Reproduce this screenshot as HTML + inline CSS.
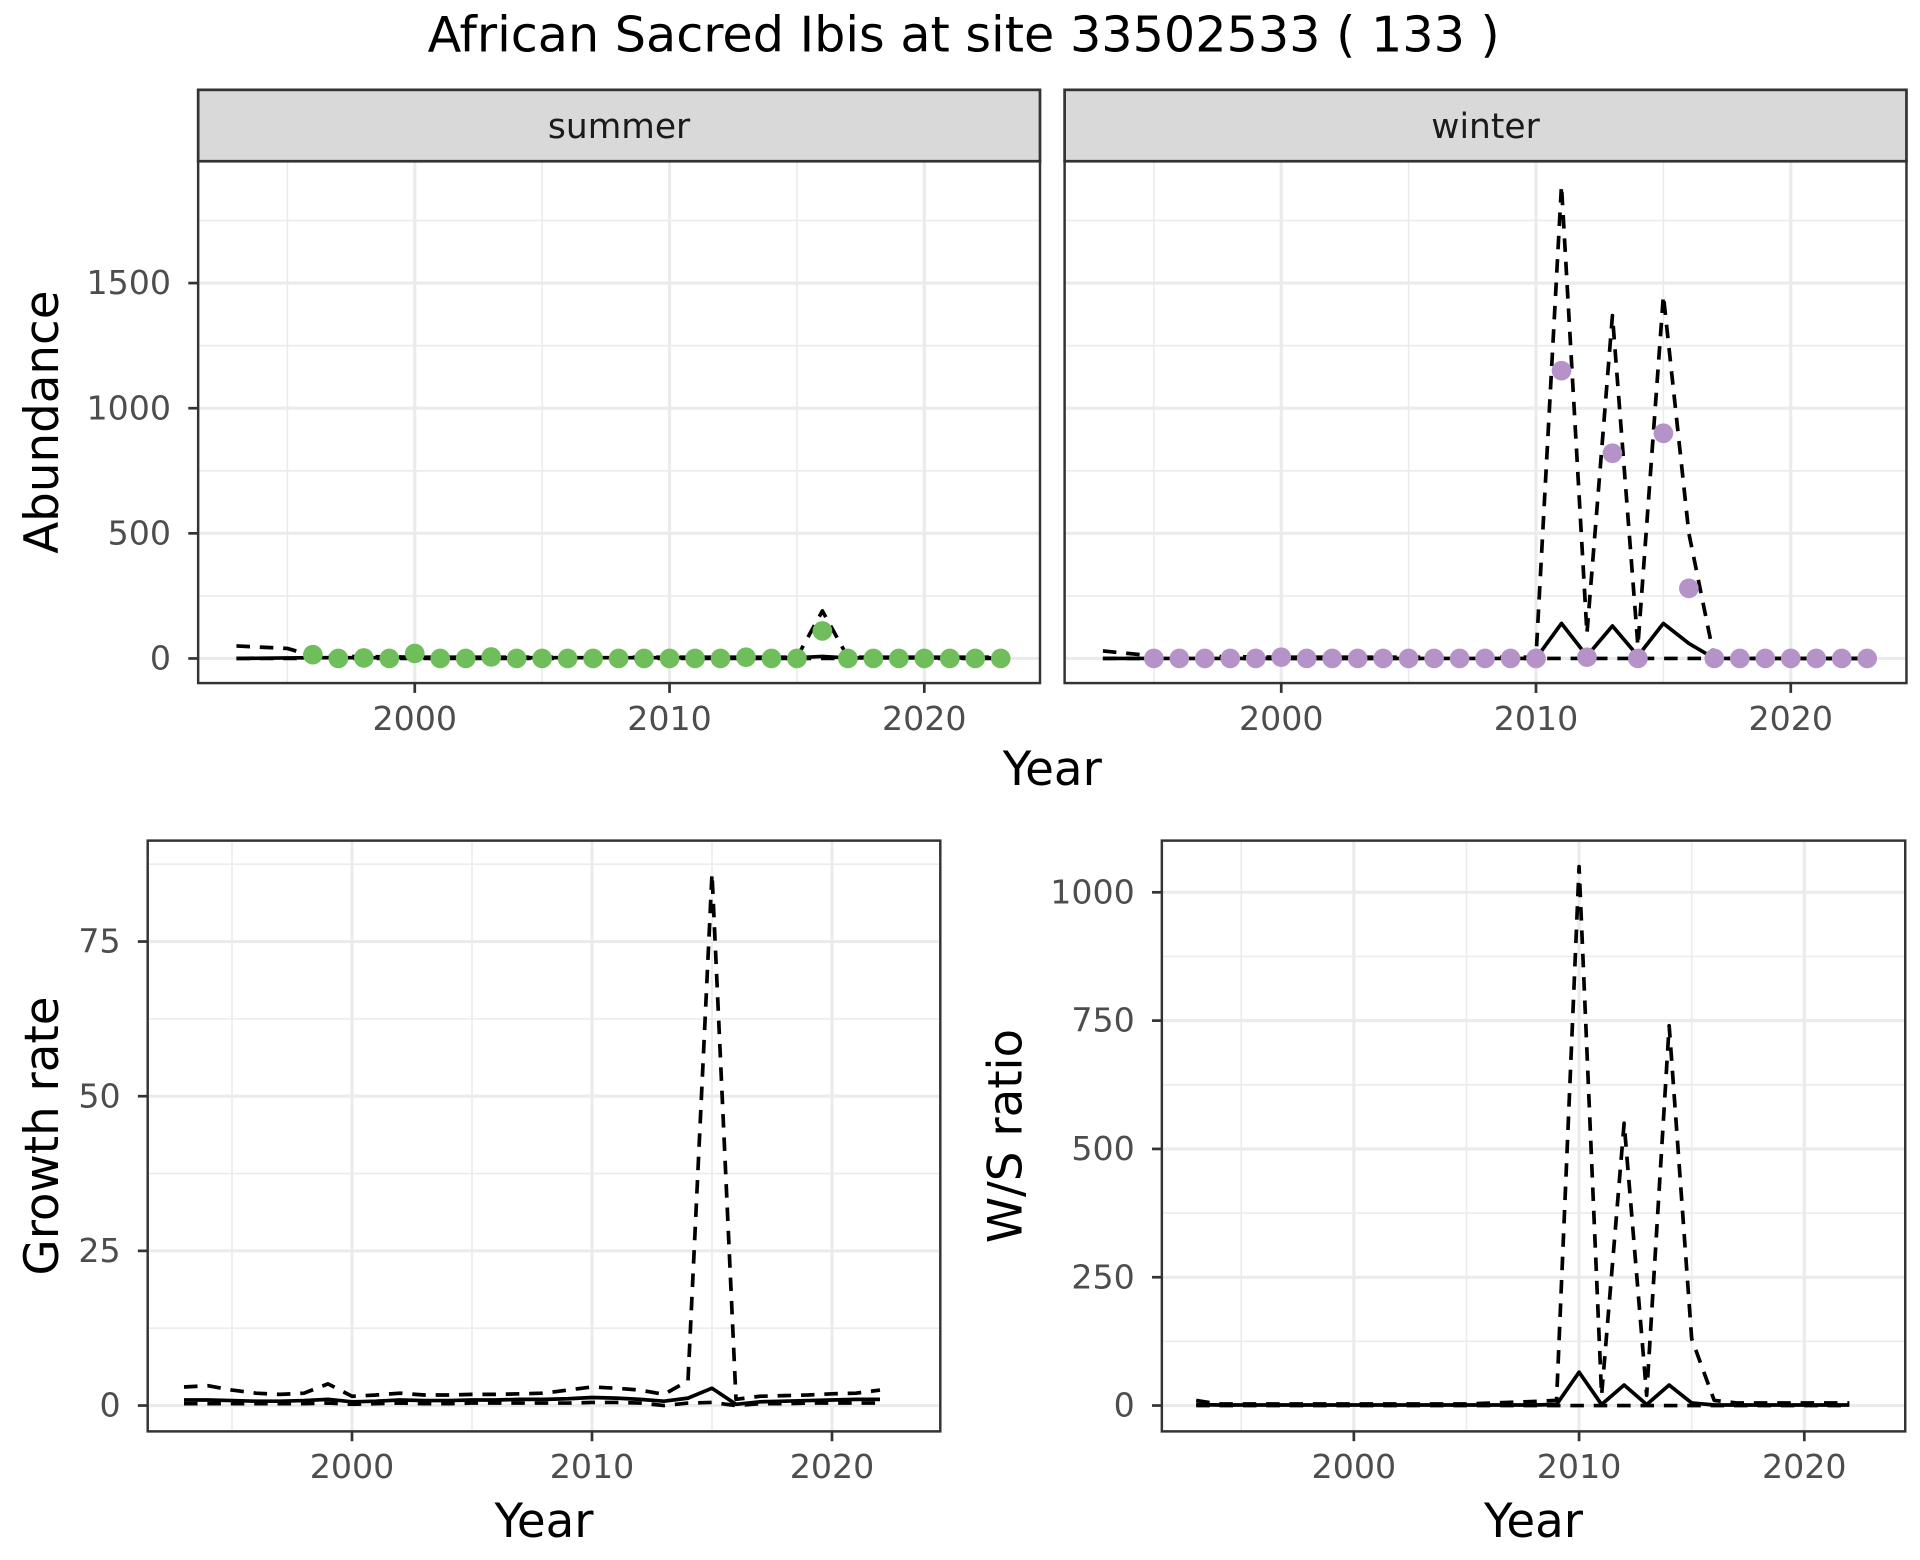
<!DOCTYPE html>
<html><head><meta charset="utf-8"><style>
html,body{margin:0;padding:0;background:#fff;}
svg{display:block;}
text{font-family:"DejaVu Sans","Liberation Sans",sans-serif;}
</style></head><body>
<svg id="chart" width="1920" height="1560" viewBox="0 0 1560 1267.5" xmlns="http://www.w3.org/2000/svg">
<text x="783" y="42" font-size="40" text-anchor="middle" fill="#000">African Sacred Ibis at site 33502533 ( 133 )</text>
</svg>
<script>
// ---- data ----
const summerYears = [1996,1997,1998,1999,2000,2001,2002,2003,2004,2005,2006,2007,2008,2009,2010,2011,2012,2013,2014,2015,2016,2017,2018,2019,2020,2021,2022,2023];
const summerCounts = [15,0,2,0,20,0,0,6,0,0,0,0,0,0,0,0,0,5,0,0,110,0,0,0,0,0,0,0];
const summerLineYears = [1993,1995,1996,2000,2005,2010,2015,2016,2017,2020,2023];
const summerMean = [0,2,3,3,3,3,3,8,2,2,2];
const summerUpper = [50,40,10,5,5,5,5,190,5,5,5];
const summerLower = [0,0,0,0,0,0,0,0,0,0,0];

const winterYears = [1995,1996,1997,1998,1999,2000,2001,2002,2003,2004,2005,2006,2007,2008,2009,2010,2011,2012,2013,2014,2015,2016,2017,2018,2019,2020,2021,2022,2023];
const winterCounts = [0,0,0,0,0,5,0,0,0,0,0,0,0,0,0,0,1150,5,820,0,900,280,0,0,0,0,0,0,0];
const winterLineYears = [1993,1995,2000,2010,2011,2012,2013,2014,2015,2016,2017,2020,2023];
const winterMean = [0,0,0,0,140,10,130,10,140,60,0,0,0];
const winterUpper = [30,10,5,5,1890,100,1370,50,1450,500,0,0,0];
const winterLower = [0,0,0,0,0,0,0,0,0,0,0,0,0];

const growthYears = [1993,1994,1995,1996,1997,1998,1999,2000,2001,2002,2003,2004,2005,2006,2007,2008,2009,2010,2011,2012,2013,2014,2015,2016,2017,2018,2019,2020,2021,2022];
const growthMean = [0.9,0.9,0.8,0.7,0.7,0.8,1.0,0.6,0.7,0.9,0.8,0.8,0.9,0.9,1.0,1.0,1.1,1.3,1.2,1.0,0.7,1.2,2.8,0.2,0.6,0.7,0.8,0.9,1.0,1.0];
const growthUpper = [3.0,3.2,2.5,2.0,1.8,2.0,3.5,1.5,1.7,2.0,1.7,1.7,1.8,1.8,1.9,2.0,2.5,3.0,2.8,2.5,1.8,4.0,86,1.0,1.5,1.6,1.7,1.9,2.0,2.5];
const growthLower = [0.3,0.3,0.3,0.3,0.3,0.3,0.4,0.2,0.3,0.4,0.3,0.3,0.4,0.4,0.4,0.4,0.4,0.5,0.5,0.4,0.0,0.4,0.5,0.0,0.3,0.3,0.4,0.4,0.4,0.4];

const ratioYears = [1993,1994,1995,2000,2005,2008,2009,2010,2011,2012,2013,2014,2015,2016,2017,2020,2022];
const ratioMean = [2,1,1,1,1,1,2,65,2,40,2,40,5,1,1,1,1];
const ratioUpper = [10,3,3,3,3,8,10,1050,20,550,20,740,130,10,5,5,5];
const ratioLower = [0,0,0,0,0,0,0,0,0,0,0,0,0,0,0,0,0];

const abTicks = [0,500,1000,1500];
const grTicks = [0,25,50,75];
const wsTicks = [0,250,500,750,1000];
const yearTicks = [2000,2010,2020];

// ---- helpers ----
const NS = "http://www.w3.org/2000/svg";
const svg = document.getElementById('chart');
function mk(tag, attrs, parent){
  const e = document.createElementNS(NS, tag);
  for (const k in attrs) e.setAttribute(k, attrs[k]);
  (parent||svg).appendChild(e);
  return e;
}
function scale(d0,d1,r0,r1){ return v => r0 + (v-d0)/(d1-d0)*(r1-r0); }

function panel(name, box, xs, ys, yt, showY, strip){
  const g = mk('g', {});
  
  
  mk('rect',{x:box.x0,y:box.y0,width:box.x1-box.x0,height:box.y1-box.y0,fill:'#fff'},g);
  const yrs=[1995,2005,2015];
  yrs.forEach(y=>mk('line',{x1:xs(y),x2:xs(y),y1:box.y0,y2:box.y1,stroke:'#ebebeb','stroke-width':1.3},g));
  for(let i=0;i<yt.length;i++){
    const m=(yt[i]+(yt[i+1]!==undefined?yt[i+1]:yt[i]+(yt[1]-yt[0])))/2;
    const py=ys(m); if(py>box.y0&&py<box.y1) mk('line',{x1:box.x0,x2:box.x1,y1:py,y2:py,stroke:'#ebebeb','stroke-width':1.3},g);
  }
  yearTicks.forEach(y=>mk('line',{x1:xs(y),x2:xs(y),y1:box.y0,y2:box.y1,stroke:'#ebebeb','stroke-width':2.6},g));
  yt.forEach(v=>mk('line',{x1:box.x0,x2:box.x1,y1:ys(v),y2:ys(v),stroke:'#ebebeb','stroke-width':2.6},g));
  yearTicks.forEach(y=>{
    mk('line',{x1:xs(y),x2:xs(y),y1:box.y1,y2:box.y1+8,stroke:'#333','stroke-width':2.2},g);
    const t=mk('text',{x:xs(y),y:box.y1+38,'font-size':27,'text-anchor':'middle',fill:'#4d4d4d'},g);
    t.textContent=y;
    
    
  });
  if(showY){
    yt.forEach(v=>{
      mk('line',{x1:box.x0-8,x2:box.x0,y1:ys(v),y2:ys(v),stroke:'#333','stroke-width':2.2},g);
      const t=mk('text',{x:box.x0-22,y:ys(v)+9,'font-size':27,'text-anchor':'end',fill:'#4d4d4d'},g);
      t.textContent=v;
      
      
    });
  }
  if(strip){
    const r=mk('rect',{x:box.x0,y:box.y0-58,width:box.x1-box.x0,height:58,fill:'#d9d9d9',stroke:'#333','stroke-width':2.2},g);
    
    
    const t=mk('text',{x:(box.x0+box.x1)/2,y:box.y0-19,'font-size':28,'text-anchor':'middle',fill:'#1a1a1a'},g);
    t.textContent=strip;
    
    
  }
  return g;
}
function line(g, name, xsArr, ysArr, xs, ys, dashed){
  const d = xsArr.map((x,i)=>(i?'L':'M')+xs(x).toFixed(2)+','+ys(ysArr[i]).toFixed(2)).join(' ');
  const p=mk('path',{d:d,fill:'none',stroke:'#000','stroke-width':3,'stroke-dasharray':dashed?'11,8':'none','stroke-linejoin':'round'},g);
  
  
}
function points(g, name, xsArr, ysArr, xs, ys, col){
  xsArr.forEach((x,i)=>{
    const c=mk('ellipse',{cx:xs(x),cy:ys(ysArr[i]),rx:8,ry:8,fill:col},g);
    
    
  });
}
function frame(g, box){
  mk('rect',{x:box.x0,y:box.y0,width:box.x1-box.x0,height:box.y1-box.y0,fill:'none',stroke:'#333','stroke-width':2},g);
}
function label(txt,x,y,rot,name){
  const t=mk('text',{x:x,y:y,'font-size':38,'text-anchor':'middle',fill:'#000',transform:rot?`rotate(-90 ${x} ${y})`:''});
  t.textContent=txt;
  
  
}

let box={x0:161,x1:845,y0:131,y1:555};
let xs=scale(2000,2020,337,751), ys=scale(0,1500,535,230);
let g=panel('summer-panel',box,xs,ys,abTicks,true,'summer');
line(g,'summer-upper-ci',summerLineYears,summerUpper,xs,ys,true);
line(g,'summer-lower-ci',summerLineYears,summerLower,xs,ys,true);
line(g,'summer-trend-line',summerLineYears,summerMean,xs,ys,false);
points(g,'summer-count-point',summerYears,summerCounts,xs,ys,'#6fbe5b');
frame(g,box);

box={x0:865,x1:1549,y0:131,y1:555};
xs=scale(2000,2020,1041,1455);
g=panel('winter-panel',box,xs,ys,abTicks,false,'winter');
line(g,'winter-upper-ci',winterLineYears,winterUpper,xs,ys,true);
line(g,'winter-lower-ci',winterLineYears,winterLower,xs,ys,true);
line(g,'winter-trend-line',winterLineYears,winterMean,xs,ys,false);
points(g,'winter-count-point',winterYears,winterCounts,xs,ys,'#b593c8');
frame(g,box);

label('Abundance',47,343,true,'y-axis-title-abundance');
label('Year',855,638,false,'x-axis-title-top');

box={x0:120,x1:764,y0:683,y1:1163};
xs=scale(2000,2020,286,676); ys=scale(0,75,1142,765);
g=panel('growth-rate-panel',box,xs,ys,grTicks,true,null);
line(g,'growth-upper-ci',growthYears,growthUpper,xs,ys,true);
line(g,'growth-lower-ci',growthYears,growthLower,xs,ys,true);
line(g,'growth-trend-line',growthYears,growthMean,xs,ys,false);
frame(g,box);
label('Growth rate',47,923,true,'y-axis-title-growth');
label('Year',442,1249,false,'x-axis-title-growth');

box={x0:944,x1:1548,y0:683,y1:1163};
xs=scale(2000,2020,1100,1466); ys=scale(0,1000,1142,725);
g=panel('ws-ratio-panel',box,xs,ys,wsTicks,true,null);
line(g,'ratio-upper-ci',ratioYears,ratioUpper,xs,ys,true);
line(g,'ratio-lower-ci',ratioYears,ratioLower,xs,ys,true);
line(g,'ratio-trend-line',ratioYears,ratioMean,xs,ys,false);
frame(g,box);
label('W/S ratio',830,923,true,'y-axis-title-ratio');
label('Year',1246,1249,false,'x-axis-title-ratio');
</script>
</body></html>
